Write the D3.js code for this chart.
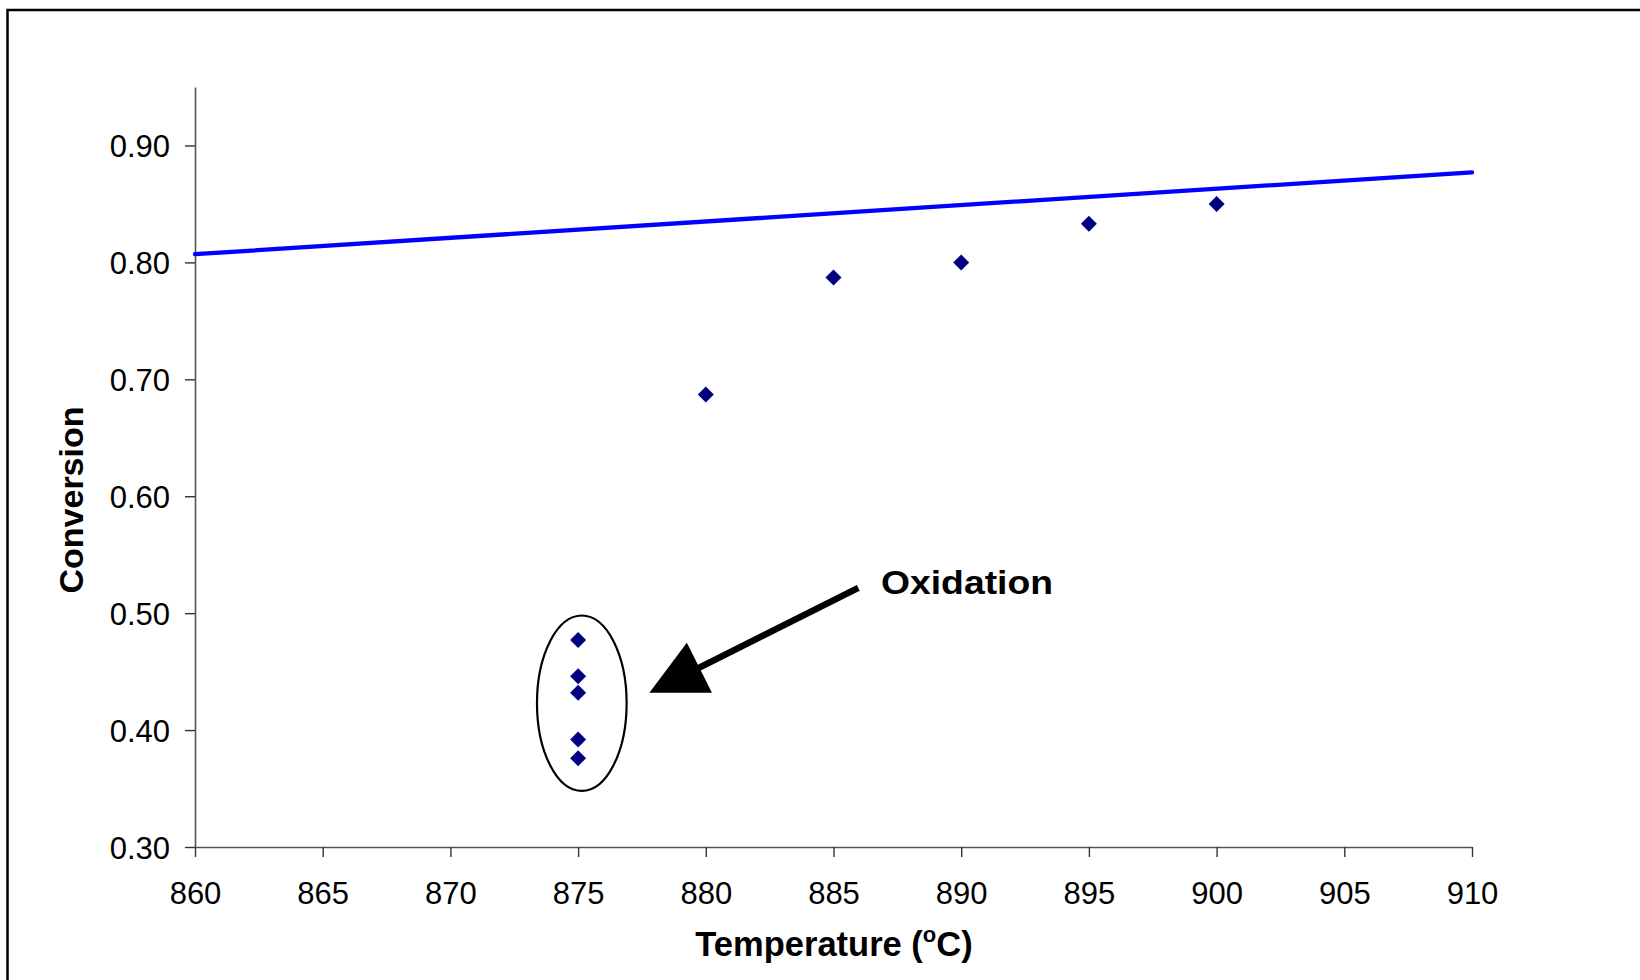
<!DOCTYPE html>
<html>
<head>
<meta charset="utf-8">
<script src="https://cdn.jsdelivr.net/npm/d3@7"></script>
<style>
  html, body { margin: 0; padding: 0; background: #fff; }
  svg { display: block; font-family: "Liberation Sans", Arial, sans-serif; }
</style>
</head>
<body>
<svg id="chart" width="1640" height="980"></svg>
<script>
// Measured conversion at each run temperature
const temperatures = [875, 875, 875, 875, 875, 880, 885, 890, 895, 900];
const conversions  = [0.477, 0.446, 0.432, 0.392, 0.376, 0.687, 0.787, 0.800, 0.833, 0.850];

// Straight reference line (temperature, conversion) at its two ends
const refLineTemps = [860, 910];
const refLineConv  = [0.807, 0.877];

// Axis ticks
const xTicks = [860, 865, 870, 875, 880, 885, 890, 895, 900, 905, 910];
const yTicks = [0.30, 0.40, 0.50, 0.60, 0.70, 0.80, 0.90];

// Annotation: ellipse around the oxidation runs and the arrow pointing at it (data units)
const groupBoundsX = [873.39, 876.90];
const groupBoundsY = [0.348, 0.498];
const arrowFrom = [885.97, 0.5216];
const arrowTo   = [877.79, 0.4319];
const annotationText = "Oxidation";

const svg = d3.select("#chart");

const x = d3.scaleLinear().domain([860, 910]).range([195, 1472]);
const y = d3.scaleLinear().domain([0.30, 0.95]).range([847, 87]);

// outer frame
svg.append("rect")
  .attr("x", 7.5).attr("y", 10)
  .attr("width", 1800).attr("height", 1200)
  .attr("fill", "none").attr("stroke", "#000").attr("stroke-width", 2.5);

// axes
const xAxis = svg.append("g")
  .attr("transform", `translate(0,${y(0.30)})`)
  .call(d3.axisBottom(x).tickValues(xTicks).tickFormat(d3.format("d")).tickSize(10).tickSizeOuter(0));

const yAxis = svg.append("g")
  .attr("transform", `translate(${x(860)},0)`)
  .call(d3.axisLeft(y).tickValues(yTicks).tickFormat(d3.format(".2f")).tickSize(10).tickPadding(15).tickSizeOuter(0));

[xAxis, yAxis].forEach(g => {
  g.select(".domain").attr("stroke", "#555").attr("stroke-width", 1.6);
  g.selectAll(".tick line").attr("stroke", "#333").attr("stroke-width", 1.4);
  g.selectAll(".tick text")
    .attr("fill", "#000")
    .style("font-size", "31px")
    .style("font-family", "'Liberation Sans', Arial, sans-serif");
});
xAxis.selectAll(".tick text").attr("y", 57).attr("dy", 0);
yAxis.selectAll(".tick text").attr("dy", "0.36em");

// axis titles
svg.append("text")
  .attr("x", 834).attr("y", 956)
  .attr("text-anchor", "middle")
  .style("font-size", "34.5px").style("font-weight", "bold")
  .call(t => {
    t.append("tspan").text("Temperature (");
    t.append("tspan").text("o").attr("dy", -14).style("font-size", "22px");
    t.append("tspan").text("C)").attr("dy", 14);
  });

svg.append("text")
  .attr("transform", "translate(82.5,500) rotate(-90)")
  .attr("text-anchor", "middle")
  .style("font-size", "34px").style("font-weight", "bold")
  .text("Conversion");

// reference line
const refData = refLineTemps.map((t, i) => [t, refLineConv[i]]);
svg.append("path")
  .datum(refData)
  .attr("d", d3.line().x(d => x(d[0])).y(d => y(d[1])))
  .attr("fill", "none")
  .attr("stroke", "#0000ff")
  .attr("stroke-width", 4.3)
  .attr("stroke-linecap", "round");

// measured points (diamonds)
const pts = temperatures.map((t, i) => ({ t, c: conversions[i] }));
svg.append("g").selectAll("path")
  .data(pts)
  .join("path")
  .attr("d", d3.symbol().type(d3.symbolSquare).size(128))
  .attr("transform", d => `translate(${x(d.t)},${y(d.c)}) rotate(45)`)
  .attr("fill", "#000080");

// ellipse around the oxidation runs
const ex0 = x(groupBoundsX[0]), ex1 = x(groupBoundsX[1]);
const ey0 = y(groupBoundsY[1]), ey1 = y(groupBoundsY[0]);
svg.append("ellipse")
  .attr("cx", (ex0 + ex1) / 2).attr("cy", (ey0 + ey1) / 2)
  .attr("rx", (ex1 - ex0) / 2).attr("ry", (ey1 - ey0) / 2)
  .attr("fill", "none").attr("stroke", "#000").attr("stroke-width", 2.2);

// arrow
const ax0 = x(arrowFrom[0]), ay0 = y(arrowFrom[1]);
const ax1 = x(arrowTo[0]),   ay1 = y(arrowTo[1]);
const len = Math.hypot(ax1 - ax0, ay1 - ay0);
const ux = (ax1 - ax0) / len, uy = (ay1 - ay0) / len;
const headLen = 56, headHalf = 28;
const bx = ax1 - ux * headLen, by = ay1 - uy * headLen;
svg.append("line")
  .attr("x1", ax0).attr("y1", ay0)
  .attr("x2", bx + ux * 4).attr("y2", by + uy * 4)
  .attr("stroke", "#000").attr("stroke-width", 6.5);
svg.append("path")
  .attr("d", `M${ax1},${ay1} L${bx - uy * headHalf},${by + ux * headHalf} L${bx + uy * headHalf},${by - ux * headHalf} Z`)
  .attr("fill", "#000");

svg.append("text")
  .attr("x", 881).attr("y", 594)
  .attr("textLength", 172).attr("lengthAdjust", "spacingAndGlyphs")
  .style("font-size", "34px").style("font-weight", "bold")
  .text(annotationText);
</script>
</body>
</html>
